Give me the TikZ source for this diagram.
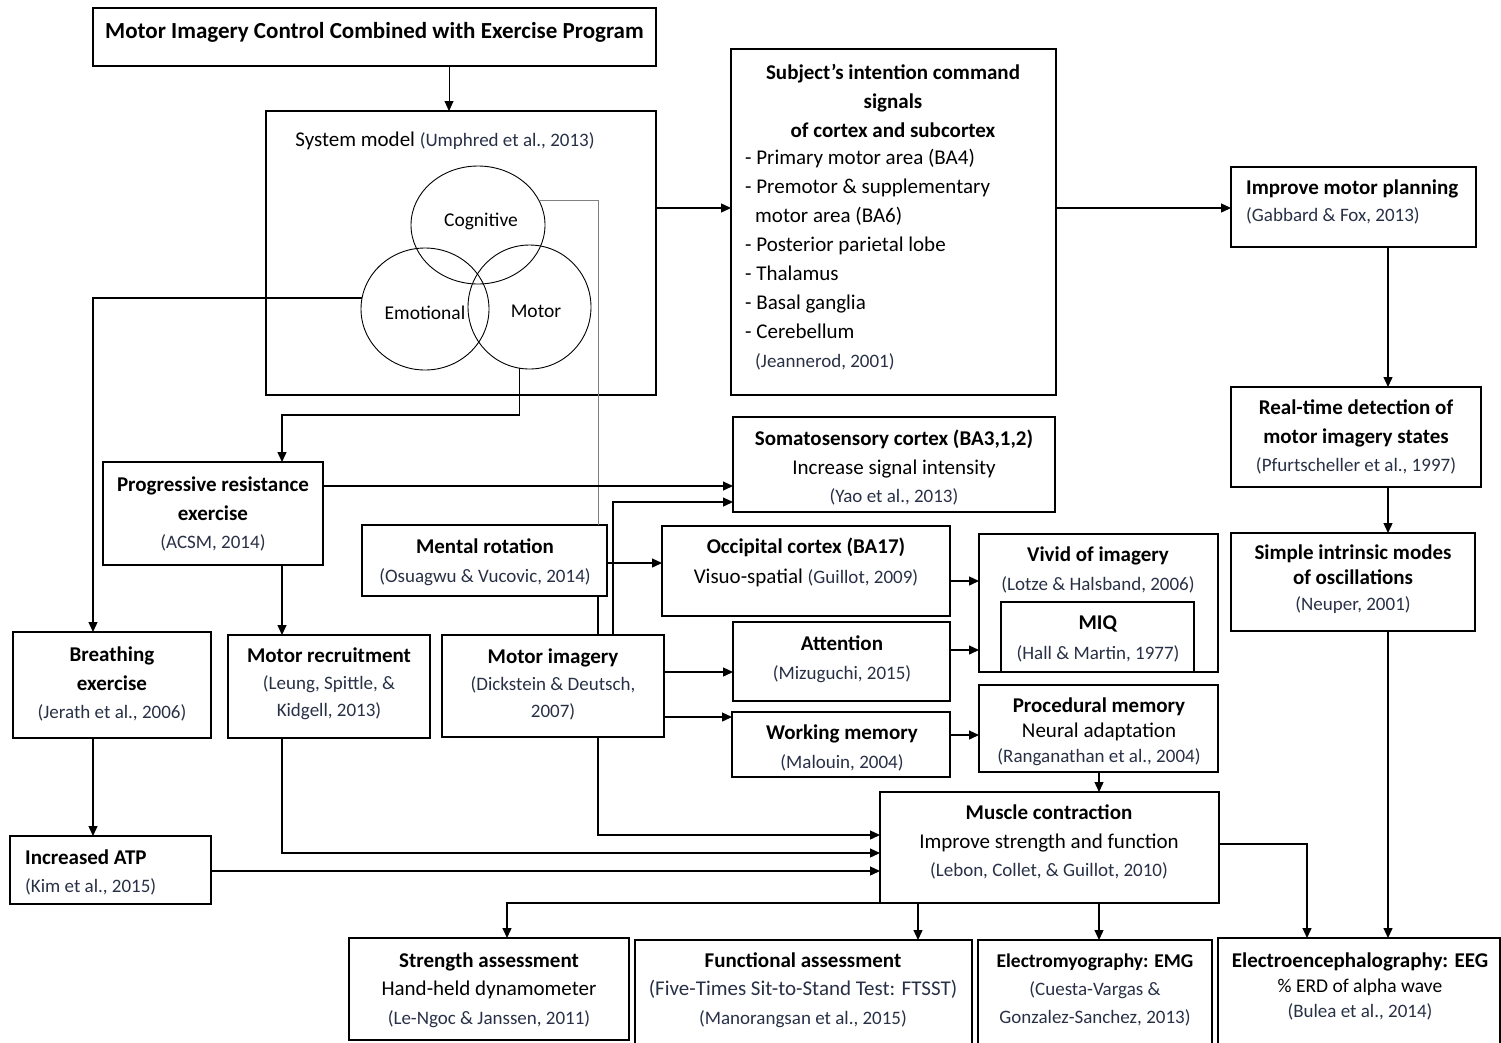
\documentclass[tikz,border=0pt]{standalone}
\usepackage{fontspec}
\setmainfont{Carlito}
\usetikzlibrary{arrows.meta,shapes.geometric}
\definecolor{cite}{RGB}{40,48,70}
\newcommand\cit[1]{{\fontsize{19}{22}\selectfont\color{cite}#1}}
\newcommand\cib[1]{{\color{cite}#1}}
\newcommand\bx[6][]{\node[box,#1,minimum width=#5-#3,minimum height=#6-#4] (#2) at (#3,#4) {};}
\begin{document}
\begin{tikzpicture}[x=1pt,y=-1pt,
  box/.style={draw, line width=1.2pt, anchor=north west, inner sep=0pt, outer sep=0pt},
  txt/.style={align=center, inner sep=0pt, yshift=-1.5pt, font=\fontsize{21}{#1}\selectfont},
  txl/.style={align=left, inner sep=0pt, anchor=west, yshift=-1.5pt, font=\fontsize{21}{#1}\selectfont},
  con/.style={line width=1.3pt, -{Triangle[length=10pt,width=9pt]}},
  lin/.style={line width=1.3pt},
  circ/.style={draw, ellipse, line width=0.9pt, inner sep=0pt, outer sep=0pt},
  ctxt/.style={inner sep=0pt, yshift=-1.5pt, font=\fontsize{19.5}{22}\selectfont}]
\useasboundingbox (0,0) rectangle (1501,1042);

% ---------- boxes ----------
\bx{title}{93}{8}{656}{66}
\bx[line width=2.4pt]{sys}{266}{111}{656}{395}
\bx{subj}{731}{49}{1056}{395}
\bx{imp}{1231}{167}{1476}{247}
\bx{rt}{1231}{387}{1481}{487}
\bx{sim}{1231}{533}{1475}{631}
\bx{som}{733}{417}{1055}{512}
\bx{pr}{103}{462}{323}{565}
\bx{mr}{362}{525}{607}{596}
\bx{occ}{662}{526}{950}{616}
\bx{viv}{979}{534}{1218}{672}
\bx{miq}{1001}{602}{1194}{672}
\bx{br}{13}{632}{211}{738}
\bx{mrec}{228}{635}{430}{738}
\bx{mi}{442}{635}{664}{737}
\bx{att}{733}{622}{950}{701}
\bx{wm}{732}{712}{950}{777}
\bx{pm}{979}{685}{1218}{772}
\bx{mc}{880}{792}{1219}{903}
\bx{atp}{10}{836}{211}{904}
\bx{sa}{349}{938}{629}{1040}
\bx{fa}{635}{940}{972}{1046}
\bx{emg}{978}{940}{1212}{1046}
\bx{eeg}{1218}{938}{1500}{1046}

% ---------- system model circles ----------
\node[circ, minimum width=134, minimum height=118] (cog) at (478,225) {};
\node[circ, minimum width=128, minimum height=122] (emo) at (425,309) {};
\node[circ, minimum width=123, minimum height=124] (mot) at (529.5,307) {};
\node[ctxt] (cogt) at (481,220) {Cognitive};
\node[ctxt] (emot) at (425,311) {Emotional};
\node[ctxt] (mott) at (536,310) {Motor};

% ---------- texts ----------
\node[txt=26] (titlet) at (374.5,31) {\fontsize{23}{26}\selectfont\bfseries Motor Imagery Control Combined with Exercise Program};
\node[txt=26] (syst) at (445,139) {System model \cit{(Umphred et al., 2013)}};
\node[txt=29] (subjh) at (893,99) {\textbf{Subject’s intention command}\\\textbf{signals}\\\textbf{of cortex and subcortex}};
\node[txl=29] (subjl) at (745,258.5) {- Primary motor area (BA4)\\- Premotor \& supplementary\\\hspace*{10pt}motor area (BA6)\\- Posterior parietal lobe\\- Thalamus\\- Basal ganglia\\- Cerebellum\\\hspace*{10pt}\cit{(Jeannerod, 2001)}};
\node[txl=27] (impt) at (1246,200.5) {\textbf{Improve motor planning}\\\cit{(Gabbard \& Fox, 2013)}};
\node[txt=28.5] (rtt) at (1356,435.5) {\textbf{Real-time detection of}\\\textbf{motor imagery states}\\\cit{(Pfurtscheller et al., 1997)}};
\node[txt=25.5] (simt) at (1353,577.5) {\textbf{Simple intrinsic modes}\\\textbf{of oscillations}\\\cit{(Neuper, 2001)}};
\node[txt=28.5] (somt) at (894,466.5) {\textbf{Somatosensory cortex (BA3,1,2)}\\Increase signal intensity\\\cit{(Yao et al., 2013)}};
\node[txt=28.5] (prt) at (213,512.5) {\textbf{Progressive resistance}\\\textbf{exercise}\\\cit{(ACSM, 2014)}};
\node[txt=29] (mrt) at (485,560.5) {\textbf{Mental rotation}\\\cit{(Osuagwu \& Vucovic, 2014)}};
\node[txt=30] (occt) at (806,561) {\textbf{Occipital cortex (BA17)}\\Visuo-spatial \cit{(Guillot, 2009)}};
\node[txt=29] (vivt) at (1098,568.5) {\textbf{Vivid of imagery}\\\cit{(Lotze \& Halsband, 2006)}};
\node[txt=30] (miqt) at (1098,637) {\textbf{MIQ}\\\cit{(Hall \& Martin, 1977)}};
\node[txt=28.5] (brt) at (112,682.5) {\textbf{Breathing}\\\textbf{exercise}\\\cit{(Jerath et al., 2006)}};
\node[txt=27] (mrect) at (329,682) {\textbf{Motor recruitment}\\\cit{(Leung, Spittle, \&}\\\cit{Kidgell, 2013)}};
\node[txt=27] (mit) at (553,683) {\textbf{Motor imagery}\\\cit{(Dickstein \& Deutsch,}\\\cit{2007)}};
\node[txt=29] (attt) at (842,657.5) {\textbf{Attention}\\\cit{(Mizuguchi, 2015)}};
\node[txt=29] (wmt) at (842,746.5) {\textbf{Working memory}\\\cit{(Malouin, 2004)}};
\node[txt=25] (pmt) at (1099,730) {\textbf{Procedural memory}\\Neural adaptation\\\cit{(Ranganathan et al., 2004)}};
\node[txt=28.5] (mct) at (1049,840.5) {\textbf{Muscle contraction}\\Improve strength and function\\\cit{(Lebon, Collet, \& Guillot, 2010)}};
\node[txl=28] (atpt) at (25,871) {\textbf{Increased ATP}\\\cit{(Kim et al., 2015)}};
\node[txt=28.5] (sat) at (489,988.5) {\textbf{Strength assessment}\\Hand-held dynamometer\\\cit{(Le-Ngoc \& Janssen, 2011)}};
\node[txt=28.5] (fat) at (803,988.5) {\textbf{Functional assessment}\\\cib{(Five-Times Sit-to-Stand Test: FTSST)}\\\cit{(Manorangsan et al., 2015)}};
\node[txt=28] (emgt) at (1095,988) {{\fontsize{19.5}{22}\selectfont\bfseries Electromyography: EMG}\\\cit{(Cuesta-Vargas \&}\\\cit{Gonzalez-Sanchez, 2013)}};
\node[txt=25] (eegt) at (1360,985) {\textbf{Electroencephalography: EEG}\\{\fontsize{19.5}{22}\selectfont\% ERD of alpha wave}\\\cit{(Bulea et al., 2014)}};

% ---------- connectors ----------
\draw[con, line width=0.9pt] (449,0 |- title.south) -- (449,0 |- sys.north);
\draw[con] (sys.east |- 0,208) -- (subj.west |- 0,208);
\draw[con] (subj.east |- 0,208) -- (imp.west |- 0,208);
\draw[con] (1388,0 |- imp.south) -- (1388,0 |- rt.north);
\draw[con] (1388,0 |- rt.south) -- (1388,0 |- sim.north);
\draw[con] (1388,0 |- sim.south) -- (1388,0 |- eeg.north);
\draw[con] (mc.east |- 0,844) -| (1307,0 |- eeg.north);
\draw[con] (emo.170.6) -| (93,0 |- br.north);
\draw[line width=0.9pt, gray] (cog.22) -| (598,0 |- mr.north);
\draw[lin] (598,0 |- mr.south) -- (598,0 |- mi.north);
\draw[con] (613,0 |- mi.north) |- (som.west |- 0,502);
\draw[con] (598,0 |- mi.south) |- (mc.west |- 0,835);
\draw[con] (mr.east |- 0,563) -- (occ.west |- 0,563);
\draw[con] (mot.261.3) |- (282,415) -- (282,0 |- pr.north);
\draw[con] (pr.east |- 0,486) -- (som.west |- 0,486);
\draw[con] (282,0 |- pr.south) -- (282,0 |- mrec.north);
\draw[con] (93,0 |- br.south) -- (93,0 |- atp.north);
\draw[con] (282,0 |- mrec.south) |- (mc.west |- 0,853);
\draw[con] (atp.east |- 0,871) -- (mc.west |- 0,871);
\draw[con] (mi.east |- 0,672) -- (att.west |- 0,672);
\draw[con] (mi.east |- 0,717) -- (wm.west |- 0,717);
\draw[con] (occ.east |- 0,581) -- (viv.west |- 0,581);
\draw[con] (att.east |- 0,650) -- (viv.west |- 0,650);
\draw[con] (wm.east |- 0,735) -- (pm.west |- 0,735);
\draw[con] (1099,0 |- pm.south) -- (1099,0 |- mc.north);
\draw[con] (mc.south west) -| (507,0 |- sa.north);
\draw[con] (918,0 |- mc.south) -- (918,0 |- fa.north);
\draw[con] (1099,0 |- mc.south) -- (1099,0 |- emg.north);
\end{tikzpicture}
\end{document}
